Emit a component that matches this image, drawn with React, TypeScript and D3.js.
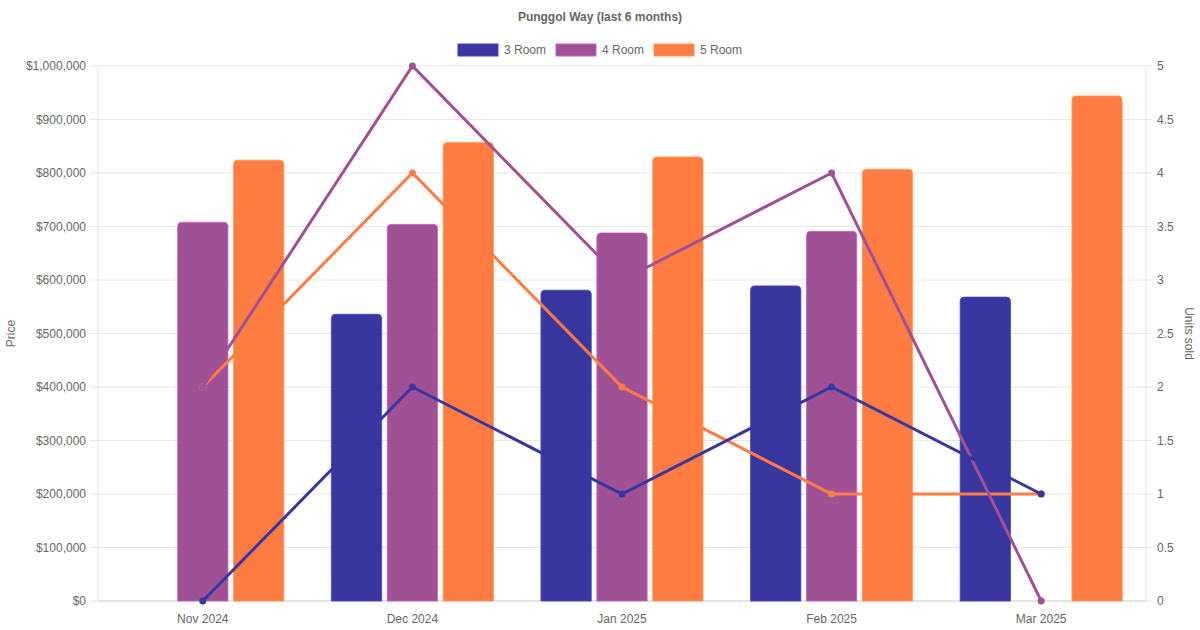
import { useEffect, useRef } from 'react'
import * as d3 from 'd3'

const MONTHS = ['Nov 2024', 'Dec 2024', 'Jan 2025', 'Feb 2025', 'Mar 2025']
const SERIES = ['3 Room', '4 Room', '5 Room']
const COLORS = ['#3a36a0', '#a05195', '#ff7c43']

// average price per month (null = no transactions)
const PRICE_3R: (number | null)[] = [null, 536000, 581000, 589000, 568000]
const PRICE_4R: (number | null)[] = [708000, 704000, 688000, 691000, null]
const PRICE_5R: (number | null)[] = [824000, 857000, 830000, 807000, 944000]

// units sold per month
const UNITS_3R = [0, 2, 1, 2, 1]
const UNITS_4R = [2, 5, 3, 4, 0]
const UNITS_5R = [2, 4, 2, 1, 1]

const PRICE_TICKS = d3.range(0, 1000001, 100000)
const UNIT_TICKS = d3.range(0, 5.01, 0.5)

const W = 1200
const H = 630
const M = { top: 66, right: 54, bottom: 29, left: 98 }
const FONT = '"Liberation Sans", Arial, Helvetica, sans-serif'
const TXT = '#666'
const GRID = '#e6e6e6'

function topRoundedRect(x: number, y: number, w: number, h: number, r: number) {
  const rr = Math.min(r, h, w / 2)
  return `M${x},${y + h}V${y + rr}Q${x},${y} ${x + rr},${y}H${x + w - rr}Q${x + w},${y} ${x + w},${y + rr}V${y + h}Z`
}

export default function App() {
  const ref = useRef<SVGSVGElement>(null)

  useEffect(() => {
    if (!ref.current) return
    const svg = d3.select(ref.current)
    svg.selectAll('*').remove()

    const x0 = M.left
    const x1 = W - M.right
    const yB = H - M.bottom
    const prices = [PRICE_3R, PRICE_4R, PRICE_5R]
    const units = [UNITS_3R, UNITS_4R, UNITS_5R]

    const x = d3.scaleBand().domain(MONTHS).range([x0, x1])
    const bw = x.bandwidth()
    const xs = d3.scaleBand().domain(SERIES)
      .range([bw * 0.1, bw * 0.9])
      .paddingInner(0.1)
      .paddingOuter(0.05)
    const yL = d3.scaleLinear().domain([0, 1000000]).range([yB, M.top])
    const yR = d3.scaleLinear().domain([0, 5]).range([yB, M.top])

    // ── Grid ───────────────────────────────────────────────────────
    const grid = svg.append('g')
    grid.selectAll('line')
      .data(PRICE_TICKS)
      .join('line')
      .attr('x1', x0 - 8).attr('x2', x1)
      .attr('y1', d => yL(d)).attr('y2', d => yL(d))
      .attr('stroke', GRID)
    grid.selectAll('line.r')
      .data(UNIT_TICKS)
      .join('line')
      .attr('class', 'r')
      .attr('x1', x1).attr('x2', x1 + 6)
      .attr('y1', d => yR(d)).attr('y2', d => yR(d))
      .attr('stroke', GRID)
    grid.append('line').attr('x1', x0).attr('x2', x0).attr('y1', M.top).attr('y2', yB).attr('stroke', GRID)
    grid.append('line').attr('x1', x1).attr('x2', x1).attr('y1', M.top).attr('y2', yB).attr('stroke', GRID)
    grid.append('line').attr('x1', x0).attr('x2', x1).attr('y1', yB).attr('y2', yB).attr('stroke', '#d2d2d2')

    // ── Tick labels ────────────────────────────────────────────────
    const fmt = d3.format('$,')
    svg.append('g').selectAll('text')
      .data(PRICE_TICKS)
      .join('text')
      .attr('x', x0 - 12)
      .attr('y', d => yL(d))
      .attr('dy', '0.35em')
      .attr('text-anchor', 'end')
      .attr('font-size', 12).attr('font-family', FONT).attr('fill', TXT)
      .text(d => fmt(d))

    svg.append('g').selectAll('text')
      .data(UNIT_TICKS)
      .join('text')
      .attr('x', x1 + 11)
      .attr('y', d => yR(d))
      .attr('dy', '0.35em')
      .attr('font-size', 12).attr('font-family', FONT).attr('fill', TXT)
      .text(d => String(d))

    svg.append('g').selectAll('text')
      .data(MONTHS)
      .join('text')
      .attr('x', d => x(d)! + bw / 2)
      .attr('y', yB + 22)
      .attr('text-anchor', 'middle')
      .attr('font-size', 12).attr('font-family', FONT).attr('fill', TXT)
      .text(d => d)

    const midY = (M.top + yB) / 2
    svg.append('text')
      .attr('transform', `translate(15,${midY}) rotate(-90)`)
      .attr('text-anchor', 'middle')
      .attr('font-size', 12).attr('font-family', FONT).attr('fill', TXT)
      .text('Price')
    svg.append('text')
      .attr('transform', `translate(1185,${midY}) rotate(90)`)
      .attr('text-anchor', 'middle')
      .attr('font-size', 12).attr('font-family', FONT).attr('fill', TXT)
      .text('Units sold')

    // ── Bars ───────────────────────────────────────────────────────
    const barsG = svg.append('g')
    SERIES.forEach((s, si) => {
      const rows = MONTHS.map((m, i) => ({ m, v: prices[si][i] })).filter(d => d.v != null) as { m: string; v: number }[]
      barsG.append('g').selectAll('path')
        .data(rows)
        .join('path')
        .attr('d', d => topRoundedRect(x(d.m)! + xs(s)!, yL(d.v), xs.bandwidth(), yB - yL(d.v), 4))
        .attr('fill', COLORS[si])
        .attr('stroke', d3.color(COLORS[si])!.brighter(0.6).formatHex())
        .attr('stroke-width', 0.8)
    })

    // ── Lines (drawn over bars, 3 Room on top) ─────────────────────
    const linesG = svg.append('g')
    ;[2, 1, 0].forEach(si => {
      const pts = MONTHS.map((m, i) => ({ m, v: units[si][i] }))
      const line = d3.line<{ m: string; v: number }>()
        .x(d => x(d.m)! + bw / 2)
        .y(d => yR(d.v))
      const g = linesG.append('g')
      g.append('path')
        .attr('d', line(pts)!)
        .attr('fill', 'none')
        .attr('stroke', COLORS[si])
        .attr('stroke-width', 3)
      g.selectAll('circle')
        .data(pts)
        .join('circle')
        .attr('cx', d => x(d.m)! + bw / 2)
        .attr('cy', d => yR(d.v))
        .attr('r', 3.5)
        .attr('fill', COLORS[si])
    })

    // ── Title & legend ─────────────────────────────────────────────
    svg.append('text')
      .attr('x', W / 2).attr('y', 21)
      .attr('text-anchor', 'middle')
      .attr('font-size', 12).attr('font-weight', 'bold')
      .attr('font-family', FONT).attr('fill', TXT)
      .text('Punggol Way (last 6 months)')

    const legG = svg.append('g')
    const items = legG.selectAll('g')
      .data(SERIES)
      .join('g')
    items.append('rect')
      .attr('width', 40).attr('height', 12)
      .attr('fill', (_d, i) => COLORS[i])
      .attr('stroke', (_d, i) => d3.color(COLORS[i])!.brighter(0.6).formatHex())
    const labels = items.append('text')
      .attr('x', 46).attr('y', 6).attr('dy', '0.35em')
      .attr('font-size', 12).attr('font-family', FONT).attr('fill', TXT)
      .text(d => d)
    const widths = labels.nodes().map(n => 46 + (n as SVGTextElement).getComputedTextLength())
    const total = d3.sum(widths) + 10 * (widths.length - 1)
    let cx = W / 2 - total / 2
    items.attr('transform', (_d, i) => {
      const t = `translate(${cx},44)`
      cx += widths[i] + 10
      return t
    })
  }, [])

  return (
    <div style={{ position: 'fixed', left: 0, top: 0, width: W, height: H, background: '#fff' }}>
      <svg ref={ref} width={W} height={H} viewBox={`0 0 ${W} ${H}`} style={{ display: 'block' }} />
    </div>
  )
}
